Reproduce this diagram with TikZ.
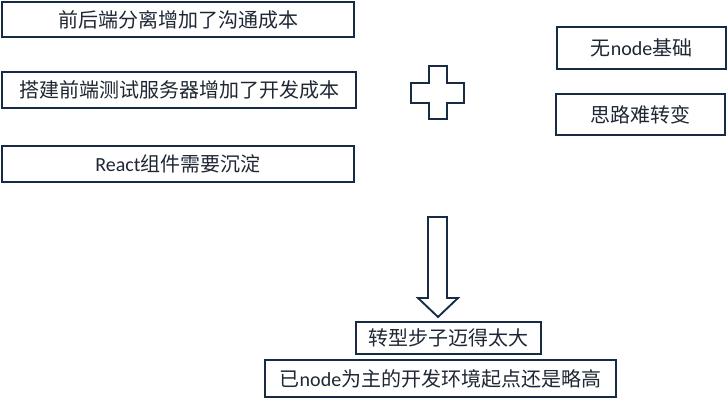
\documentclass[tikz,border=0pt]{standalone}
\usepackage{fontspec}
\setmainfont{Carlito}
\newfontfamily\cjk{Noto Sans CJK SC}
\usepackage{xcolor}

\begin{document}
\begin{tikzpicture}[x=0.75pt,y=-0.75pt,
  box/.style={draw=navy,line width=1.6pt,inner sep=0pt,text=ink,
    font=\fontsize{15}{17}\selectfont},
  shapeline/.style={draw=navy,line width=1.4pt,line join=miter,fill=white}]
\definecolor{navy}{HTML}{172B45}
\definecolor{ink}{HTML}{1E2733}
\useasboundingbox (0,0) rectangle (728,403);
% left column
\node [box,minimum width=264pt,minimum height=26.25pt] (sep) at (178,19.5) {\cjk 前后端分离增加了沟通成本};
\node [box,minimum width=265.5pt,minimum height=27pt] (srv) at (179,90) {\cjk 搭建前端测试服务器增加了开发成本};
\node [box,minimum width=264pt,minimum height=27pt] (cmp) at (178,164) {React\cjk 组件需要沉淀};
% right column
\node [box,minimum width=126.75pt,minimum height=31.5pt] (base) at (641.5,48) {\cjk 无\rmfamily node\cjk 基础};
\node [box,minimum width=126.75pt,minimum height=30.75pt] (mind) at (640.5,114.5) {\cjk 思路难转变};
% plus
\draw [shapeline] (429,66) -- (447,66) -- (447,83) -- (464,83) -- (464,103) -- (447,103)
  -- (447,119) -- (429,119) -- (429,103) -- (411,103) -- (411,83) -- (429,83) -- cycle;
% down arrow
\draw [shapeline] (428,217) -- (447,217) -- (447,298) -- (458,298) -- (438,317)
  -- (418,298) -- (428,298) -- cycle;
% bottom
\node [box,minimum width=138.75pt,minimum height=24pt] (step) at (448.5,338) {\cjk 转型步子迈得太大};
\node [box,minimum width=263.25pt,minimum height=27.75pt] (env) at (440.5,378.5) {\cjk 已\rmfamily node\cjk 为主的开发环境起点还是略高};
\end{tikzpicture}
\end{document}
